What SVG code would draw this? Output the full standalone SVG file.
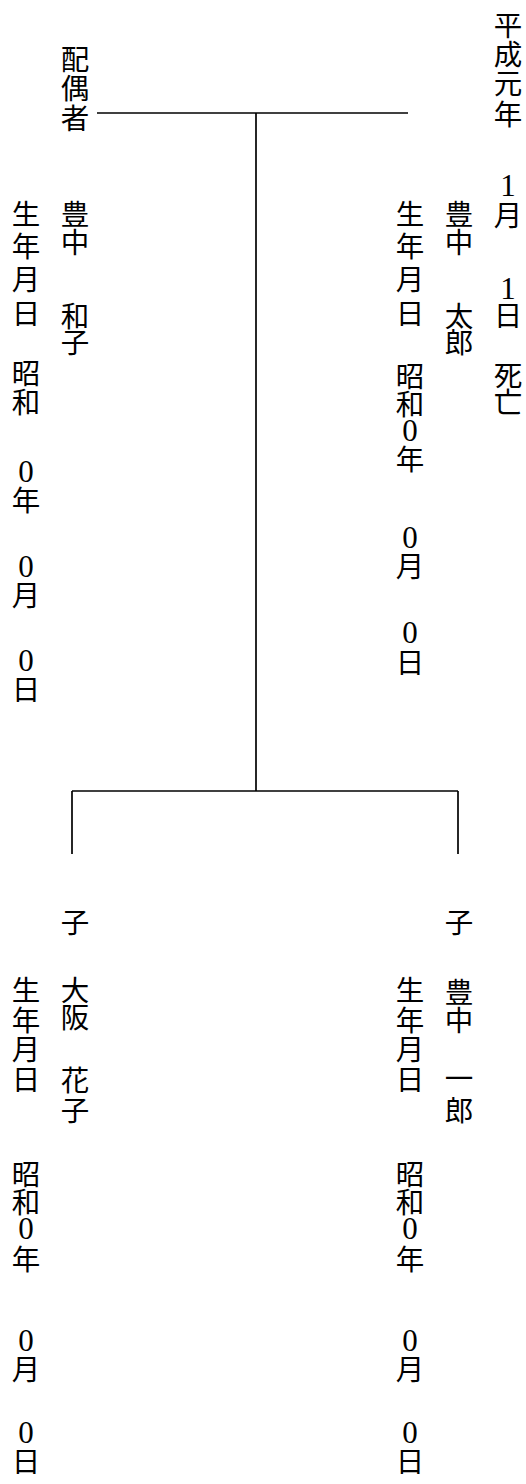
<svg xmlns="http://www.w3.org/2000/svg" width="526" height="1484" viewBox="0 0 526 1484">
<style>
.t{font-family:"Noto Sans CJK JP","Noto Sans CJK SC",sans-serif;font-size:28.5px;text-anchor:middle;dominant-baseline:central;fill:#000}
.d{font-family:"Liberation Serif","Noto Sans CJK JP",serif;font-size:31px;dominant-baseline:central}
.ln{stroke:#000;stroke-width:1.7;fill:none}
</style>
<rect width="526" height="1484" fill="#fff"/>
<g id="connectors">
<path class="ln" d="M97,113 H408"/>
<path class="ln" d="M256,113 V791"/>
<path class="ln" d="M72,791 H458"/>
<path class="ln" d="M72,791 V854"/>
<path class="ln" d="M458,791 V854"/>
</g>
<g id="node-taro">
<text class="t" x="508 508 508 508 508 508 508 508 508 508 508 508 508" y="23 52 81 112 148 185 213 250 288 313 344 373 400">平成元年　<tspan class="d">1</tspan>月　<tspan class="d">1</tspan>日　死亡</text>
<text class="t" x="459 459 459 459 459" y="212 240 277 314 340">豊中　太郎</text>
<text class="t" x="410 410 410 410 410 410 410 410 410 410 410 410 410 410 410" y="212 244 277 311 343 374 402 430 457 497 537 564 598 632 660">生年月日　昭和<tspan class="d">0</tspan>年　<tspan class="d">0</tspan>月　<tspan class="d">0</tspan>日</text>
</g>
<g id="node-kazuko">
<text class="t" x="75 75 75" y="57 86 116">配偶者</text>
<text class="t" x="75 75 75 75 75" y="212 240 277 314 340">豊中　和子</text>
<text class="t" x="26 26 26 26 26 26 26 26 26 26 26 26 26 26 26 26" y="212 244 277 311 343 371 400 435 471 498 532 566 593 626 660 687">生年月日　昭和　<tspan class="d">0</tspan>年　<tspan class="d">0</tspan>月　<tspan class="d">0</tspan>日</text>
</g>
<g id="node-hanako">
<text class="t" x="75" y="920">子</text>
<text class="t" x="75 75 75 75 75" y="988 1015 1046 1078 1108">大阪　花子</text>
<text class="t" x="26 26 26 26 26 26 26 26 26 26 26 26 26 26 26" y="988 1018 1047 1077 1125 1172 1200 1228 1257 1298 1340 1367 1399 1432 1459">生年月日　昭和<tspan class="d">0</tspan>年　<tspan class="d">0</tspan>月　<tspan class="d">0</tspan>日</text>
</g>
<g id="node-ichiro">
<text class="t" x="459" y="920">子</text>
<text class="t" x="459 459 459 459 459" y="990 1018 1047 1076 1108">豊中　一郎</text>
<text class="t" x="410 410 410 410 410 410 410 410 410 410 410 410 410 410 410" y="988 1018 1047 1077 1125 1172 1200 1228 1257 1298 1340 1367 1399 1432 1459">生年月日　昭和<tspan class="d">0</tspan>年　<tspan class="d">0</tspan>月　<tspan class="d">0</tspan>日</text>
</g>
</svg>
